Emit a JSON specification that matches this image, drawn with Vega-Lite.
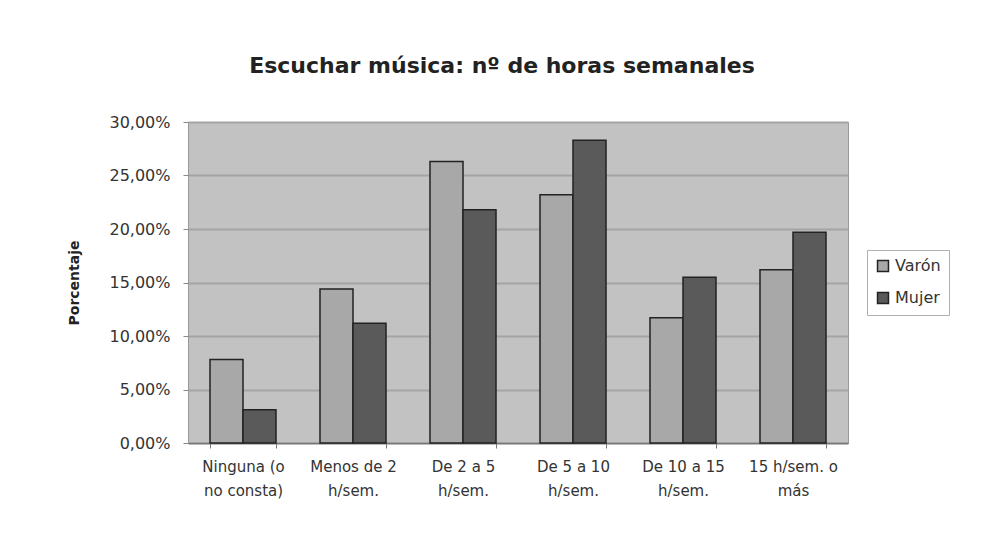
{
  "$schema": "https://vega.github.io/schema/vega-lite/v6.json",
  "width": 660,
  "height": 321,
  "autosize": {"type": "none"},
  "padding": {"left": 188, "top": 122, "right": 140, "bottom": 94},
  "background": "white",
  "title": {
    "text": "Escuchar música: nº de horas semanales",
    "font": "DejaVu Sans",
    "fontSize": 22,
    "fontWeight": "bold",
    "color": "#222222",
    "anchor": "middle",
    "frame": "group",
    "baseline": "alphabetic",
    "offset": 19,
    "dx": -16
  },
  "data": {
    "values": [
      {"cat": "Ninguna (o no consta)", "sexo": "Varón", "pct": 0.078},
      {"cat": "Ninguna (o no consta)", "sexo": "Mujer", "pct": 0.031},
      {"cat": "Menos de 2 h/sem.", "sexo": "Varón", "pct": 0.144},
      {"cat": "Menos de 2 h/sem.", "sexo": "Mujer", "pct": 0.112},
      {"cat": "De 2 a 5 h/sem.", "sexo": "Varón", "pct": 0.263},
      {"cat": "De 2 a 5 h/sem.", "sexo": "Mujer", "pct": 0.218},
      {"cat": "De 5 a 10 h/sem.", "sexo": "Varón", "pct": 0.232},
      {"cat": "De 5 a 10 h/sem.", "sexo": "Mujer", "pct": 0.283},
      {"cat": "De 10 a 15 h/sem.", "sexo": "Varón", "pct": 0.117},
      {"cat": "De 10 a 15 h/sem.", "sexo": "Mujer", "pct": 0.155},
      {"cat": "15 h/sem. o más", "sexo": "Varón", "pct": 0.162},
      {"cat": "15 h/sem. o más", "sexo": "Mujer", "pct": 0.197}
    ]
  },
  "mark": {"type": "bar", "stroke": "#222222", "strokeWidth": 1.5},
  "encoding": {
    "x": {
      "field": "cat",
      "type": "nominal",
      "sort": null,
      "scale": {"paddingInner": 0.4, "paddingOuter": 0.2},
      "axis": {
        "title": null,
        "labelAngle": 0,
        "labelFont": "DejaVu Sans",
        "labelFontSize": 15,
        "labelColor": "#333333",
        "labelPadding": 11,
        "labelLineHeight": 24,
        "labelBaseline": "top",
        "tickBand": "extent",
        "tickSize": 5,
        "tickColor": "#777777",
        "domainColor": "#777777",
        "domainWidth": 1.5,
        "labelExpr": "{'Ninguna (o no consta)': ['Ninguna (o', 'no consta)'], 'Menos de 2 h/sem.': ['Menos de 2', 'h/sem.'], 'De 2 a 5 h/sem.': ['De 2 a 5', 'h/sem.'], 'De 5 a 10 h/sem.': ['De 5 a 10', 'h/sem.'], 'De 10 a 15 h/sem.': ['De 10 a 15', 'h/sem.'], '15 h/sem. o más': ['15 h/sem. o', 'más']}[datum.value]"
      }
    },
    "xOffset": {
      "field": "sexo",
      "type": "nominal",
      "scale": {"domain": ["Varón", "Mujer"], "paddingInner": 0, "paddingOuter": 0}
    },
    "y": {
      "field": "pct",
      "type": "quantitative",
      "scale": {"domain": [0, 0.3], "nice": false},
      "axis": {
        "title": "Porcentaje",
        "titleFont": "DejaVu Sans",
        "titleFontSize": 14,
        "titleFontWeight": "bold",
        "titleColor": "#222222",
        "titlePadding": 27,
        "values": [0, 0.05, 0.1, 0.15, 0.2, 0.25, 0.3],
        "labelExpr": "replace(format(datum.value, '.2%'), '.', ',')",
        "labelFont": "DejaVu Sans",
        "labelFontSize": 16,
        "labelColor": "#333333",
        "labelPadding": 13,
        "tickSize": 5,
        "tickColor": "#888888",
        "domain": false,
        "grid": true,
        "gridColor": "#a4a4a4",
        "gridWidth": 2
      }
    },
    "color": {
      "field": "sexo",
      "type": "nominal",
      "scale": {"domain": ["Varón", "Mujer"], "range": ["#a8a8a8", "#5a5a5a"]},
      "legend": {
        "title": null,
        "orient": "none",
        "legendX": 679,
        "legendY": 128,
        "symbolType": "square",
        "symbolSize": 120,
        "symbolStrokeColor": "#222222",
        "symbolStrokeWidth": 1.5,
        "labelFont": "DejaVu Sans",
        "labelFontSize": 16,
        "labelColor": "#333333",
        "strokeColor": "#b0b0b0",
        "padding": 8,
        "rowPadding": 14
      }
    }
  },
  "config": {
    "view": {"fill": "#c2c2c2", "stroke": "#999999", "strokeWidth": 1}
  }
}
